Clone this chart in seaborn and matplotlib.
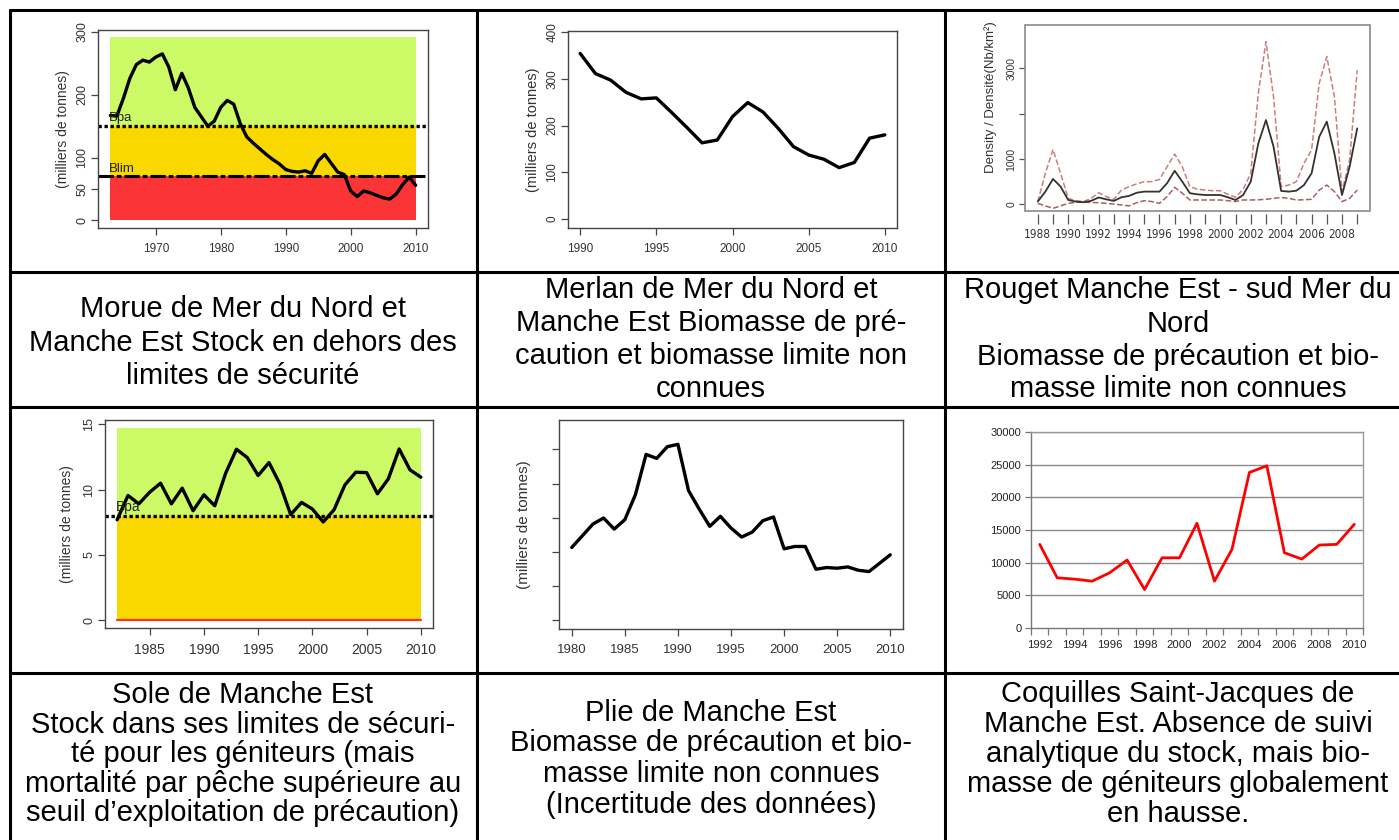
import numpy as np
import pandas as pd
import seaborn as sns
import matplotlib.pyplot as plt
from matplotlib.lines import Line2D
from matplotlib.patches import Rectangle

# ------------------------------
# Data
# ------------------------------
morue_years = list(range(1963, 2011))
morue_biomass = [167, 166, 194, 226, 248, 255, 252, 260, 265, 244, 208, 234, 211, 180, 165, 150,
                 158, 180, 191, 185, 154, 133, 123, 114, 105, 97, 90, 81, 78, 77, 79, 75,
                 95, 105, 91, 77, 73, 47, 38, 47, 44, 40, 36, 34, 42, 57, 69, 56]
morue_bpa = 150
morue_blim = 70
morue_top = 292

merlan_years = list(range(1990, 2011))
merlan_biomass = [354, 311, 297, 271, 257, 259, 228, 196, 163, 169, 219, 249, 229, 194, 155,
                  137, 128, 110, 121, 173, 180]

rouget_t = [1988.0 + 0.5 * i for i in range(43)]
rouget_mean = [60, 280, 560, 390, 95, 60, 45, 75, 150, 110, 75, 155, 185, 255, 280, 280,
               280, 465, 740, 500, 245, 220, 205, 205, 205, 155, 95, 205, 500, 1345, 1860, 1270,
               295, 280, 300, 425, 685, 1490, 1825, 1125, 205, 830, 1675]
rouget_upper = [60, 685, 1210, 685, 130, 80, 60, 130, 255, 170, 110, 315, 390, 450, 500, 500,
                550, 830, 1110, 830, 390, 330, 315, 300, 300, 220, 155, 330, 685, 2450, 3590, 2375,
                390, 425, 500, 905, 1200, 2670, 3260, 2375, 280, 980, 2960]
rouget_lower = [20, -35, -90, -35, 20, 45, 45, 40, 35, 20, 5, -15, -35, 35, 80, 60,
                20, 170, 375, 245, 95, 95, 95, 95, 95, 80, 60, 95, 95, 100, 110, 130,
                150, 130, 95, 100, 110, 315, 425, 280, 60, 130, 315]

sole_years = list(range(1982, 2011))
sole_biomass = [7.7, 9.56, 8.92, 9.81, 10.5, 8.92, 10.12, 8.39, 9.61, 8.77, 11.26, 13.1, 12.46,
                11.09, 12.08, 10.45, 8.09, 9.03, 8.52, 7.53, 8.47, 10.37, 11.34, 11.31, 9.69,
                10.83, 13.12, 11.52, 10.96]
sole_bpa = 8
sole_top = 14.75

plie_years = list(range(1980, 2011))
plie_biomass = [10.64, 12.35, 14.07, 14.95, 13.33, 14.71, 18.38, 24.26, 23.68, 25.39, 25.74,
                18.97, 16.27, 13.73, 15.2, 13.48, 12.16, 12.89, 14.56, 15.1, 10.44, 10.78,
                10.78, 7.45, 7.7, 7.6, 7.79, 7.3, 7.11, 8.33, 9.56]

csj_years = list(range(1992, 2011))
csj_biomass = [12800, 7680, 7480, 7170, 8450, 10400, 5890, 10750, 10750, 16030, 7170, 12030,
               23810, 24830, 11520, 10550, 12700, 12800, 15870]

captions = [
    ["Morue de Mer du Nord et", "Manche Est Stock en dehors des", "limites de sécurité"],
    ["Merlan de Mer du Nord et", "Manche Est Biomasse de pré-", "caution et biomasse limite non",
     "connues"],
    ["Rouget Manche Est - sud Mer du", "Nord", "Biomasse de précaution et bio-",
     "masse limite non connues"],
    ["Sole de Manche Est", "Stock dans ses limites de sécuri-", "té pour les géniteurs (mais",
     "mortalité par pêche supérieure au", "seuil d’exploitation de précaution)"],
    ["Plie de Manche Est", "Biomasse de précaution et bio-", "masse limite non connues",
     "(Incertitude des données)"],
    ["Coquilles Saint-Jacques de", "Manche Est. Absence de suivi", "analytique du stock, mais bio-",
     "masse de géniteurs globalement", "en hausse."],
]

# ------------------------------
# Figure setup
# ------------------------------
sns.set_style("ticks")
plt.rcParams['font.family'] = ['Liberation Sans', 'DejaVu Sans']

W, H = 1399, 840
fig = plt.figure(figsize=(W / 100, H / 100), dpi=100)

GREEN = '#ccf966'
YELLOW = '#f9d800'
RED = '#fb3535'
RGRAY = '#333333'


def axes_px(left, top, right, bottom):
    return fig.add_axes([left / W, 1 - bottom / H, (right - left) / W, (bottom - top) / H])


def r_style(ax, xsize=8, ysize=9):
    for s in ax.spines.values():
        s.set_color('#444444')
        s.set_linewidth(1.0)
    ax.tick_params(axis='both', direction='out', length=5, width=0.9, color='#444444',
                   labelcolor=RGRAY)
    ax.tick_params(axis='x', labelsize=xsize, pad=6)
    ax.tick_params(axis='y', labelsize=ysize, pad=2)
    for lab in ax.get_yticklabels():
        lab.set_rotation(90)
        lab.set_va('center')


# ------------------------------
# 1. Morue
# ------------------------------
ax1 = axes_px(98, 30, 428, 228)
x0, x1 = morue_years[0], morue_years[-1]
ax1.fill_between([x0, x1], morue_bpa, morue_top, color=GREEN, lw=0)
ax1.fill_between([x0, x1], morue_blim, morue_bpa, color=YELLOW, lw=0)
ax1.fill_between([x0, x1], 0, morue_blim, color=RED, lw=0)
ax1.axhline(morue_bpa, color='black', lw=2.4, ls=(0, (1, 0.8)))
ax1.axhline(morue_blim, color='black', lw=2.2, ls=(0, (5, 1, 1.5, 1)))
ax1.text(x0 - 0.3, morue_bpa + 3, 'Bpa', fontsize=9.5, color='#222222', va='bottom')
ax1.text(x0 - 0.3, morue_blim + 3, 'Blim', fontsize=9.5, color='#222222', va='bottom')
sns.lineplot(x=morue_years, y=morue_biomass, ax=ax1, color='black', lw=2.4)
ax1.set_xlim(1961.1, 2011.9)
ax1.set_ylim(-12, 303)
ax1.set_xticks(range(1970, 2011, 10))
ax1.set_yticks([0, 50, 100, 200, 300])
ax1.set_ylabel('(milliers de tonnes)', fontsize=10, color=RGRAY)
ax1.yaxis.set_label_coords(-0.085, 0.5)
r_style(ax1, 8.5, 9)

# ------------------------------
# 2. Merlan
# ------------------------------
ax2 = axes_px(568, 31, 897, 228)
sns.lineplot(x=merlan_years, y=merlan_biomass, ax=ax2, color='black', lw=2.4)
ax2.set_xlim(1989.2, 2010.8)
ax2.set_ylim(-19, 402)
ax2.set_xticks(range(1990, 2011, 5))
ax2.set_yticks(range(0, 401, 100))
ax2.set_ylabel('(milliers de tonnes)', fontsize=10.5, color=RGRAY)
ax2.yaxis.set_label_coords(-0.085, 0.5)
r_style(ax2, 8.5, 8.5)

# ------------------------------
# 3. Rouget
# ------------------------------
ax3 = axes_px(1025, 25, 1370, 211)
sns.lineplot(x=rouget_t, y=rouget_upper, ax=ax3, color='#cd7f7f', lw=1.1, linestyle='--')
sns.lineplot(x=rouget_t, y=rouget_lower, ax=ax3, color='#a86060', lw=1.1, linestyle='--')
sns.lineplot(x=rouget_t, y=rouget_mean, ax=ax3, color='#333333', lw=1.3)
ax3.set_xlim(1987.16, 2009.84)
ax3.set_ylim(-148, 3958)
for s in ax3.spines.values():
    s.set_visible(False)
ax3.spines['bottom'].set_position(('outward', 2))
ax3.add_patch(Rectangle((0, 0), 1, 1, transform=ax3.transAxes, fill=False,
                        ec='#8a8a8a', lw=1.2, clip_on=False))
ax3.set_xticks(range(1988, 2010))
ax3.set_xticklabels([str(y) if y % 2 == 0 else '' for y in range(1988, 2010)])
ax3.set_yticks([0, 1000, 2000, 3000])
ax3.set_yticklabels(['0', '1000', '', '3000'])
ax3.tick_params(axis='x', direction='out', length=7, width=0.9, color='#555555',
                labelsize=8.5, pad=3, labelcolor='#333333')
ax3.tick_params(axis='y', direction='out', length=4, width=0.9, color='#555555',
                labelsize=7.5, pad=2, labelcolor='#333333')
for lab in ax3.get_xticklabels():
    lab.set_family(['Liberation Sans Narrow', 'DejaVu Sans'])
    lab.set_fontstretch('condensed')
for lab in ax3.get_yticklabels():
    lab.set_rotation(90)
    lab.set_va('center')
ax3.set_ylabel('Density / Densité(Nb/km²)', fontsize=9.5, color='#333333')
ax3.yaxis.set_label_coords(-0.082, 0.61)

# ------------------------------
# 4. Sole
# ------------------------------
ax4 = axes_px(105, 420, 433, 628)
s0, s1 = sole_years[0], sole_years[-1]
ax4.fill_between([s0, s1], sole_bpa, sole_top, color=GREEN, lw=0)
ax4.fill_between([s0, s1], 0, sole_bpa, color=YELLOW, lw=0)
ax4.plot([s0, s1], [0, 0], color=RED, lw=1.6)
ax4.axhline(sole_bpa, color='black', lw=2.4, ls=(0, (1, 0.8)))
ax4.text(s0 - 0.1, sole_bpa + 0.12, 'Bpa', fontsize=10, color='#222222', va='bottom')
sns.lineplot(x=sole_years, y=sole_biomass, ax=ax4, color='black', lw=2.4)
ax4.set_xlim(1980.88, 2011.12)
ax4.set_ylim(-0.59, 15.34)
ax4.set_xticks(range(1985, 2011, 5))
ax4.set_yticks([0, 5, 10, 15])
ax4.set_ylabel('(milliers de tonnes)', fontsize=10, color=RGRAY)
ax4.yaxis.set_label_coords(-0.095, 0.5)
r_style(ax4, 10, 9)

# ------------------------------
# 5. Plie
# ------------------------------
ax5 = axes_px(559, 420, 903, 629)
sns.lineplot(x=plie_years, y=plie_biomass, ax=ax5, color='black', lw=2.4)
ax5.set_xlim(1978.8, 2011.2)
ax5.set_ylim(-1.3, 29.3)
ax5.set_xticks(range(1980, 2011, 5))
ax5.set_yticks(range(0, 26, 5))
ax5.set_yticklabels([])
ax5.set_ylabel('(milliers de tonnes)', fontsize=11, color=RGRAY)
ax5.yaxis.set_label_coords(-0.082, 0.5)
r_style(ax5, 9.5, 9)

# ------------------------------
# 6. Coquilles Saint-Jacques (Excel style)
# ------------------------------
ax6 = axes_px(1031, 432, 1363, 628)
ax6.set_xlim(1991.5, 2010.5)
ax6.set_ylim(0, 30000)
ax6.set_yticks(range(0, 30001, 5000))
for yv in range(5000, 30001, 5000):
    ax6.axhline(yv, color='#8c8c8c', lw=1.0, zorder=0)
sns.lineplot(x=csj_years, y=csj_biomass, ax=ax6, color='#ff0000', lw=2.0)
for s in ax6.spines.values():
    s.set_color('#9a9a9a')
    s.set_linewidth(1.0)
ax6.spines['left'].set_color('#777777')
ax6.spines['bottom'].set_color('#777777')
ax6.set_xticks(range(1992, 2011, 2))
ax6.set_xticks(np.arange(1991.5, 2011, 1.0), minor=True)
ax6.tick_params(axis='x', which='major', length=0, pad=9, labelsize=8.2, labelcolor='#222222')
ax6.tick_params(axis='x', which='minor', direction='out', length=5, width=0.9, color='#777777')
ax6.tick_params(axis='y', direction='out', length=4, width=0.9, color='#777777',
                labelsize=8, pad=3, labelcolor='#222222')

for ax in (ax1, ax2, ax3, ax4, ax5, ax6):
    ax.set_xlabel('')

# ------------------------------
# Table grid
# ------------------------------
def hline(y, x0=10, x1=W):
    fig.add_artist(Line2D([x0 / W, x1 / W], [1 - y / H, 1 - y / H],
                          transform=fig.transFigure, color='black', lw=2.2))


def vline(x, y0=10, y1=H):
    fig.add_artist(Line2D([x / W, x / W], [1 - y0 / H, 1 - y1 / H],
                          transform=fig.transFigure, color='black', lw=2.2))


for y in (10, 272, 407, 673):
    hline(y)
for x in (10, 477, 945):
    vline(x)

# ------------------------------
# Captions
# ------------------------------
col_centers = [243, 711, 1178]
baselines = [
    [317, 351, 384],
    [298, 331, 364, 397],
    [298, 332, 365, 397],
    [703, 733, 762, 792, 821],
    [721, 751, 782, 813],
    [702, 732, 762, 792, 822],
]
for i, lines in enumerate(captions):
    cx = col_centers[i % 3]
    for line, by in zip(lines, baselines[i]):
        fig.text(cx / W, 1 - by / H, line, ha='center', va='baseline',
                 fontsize=21, color='black')

fig.savefig('out.png', dpi=100)
